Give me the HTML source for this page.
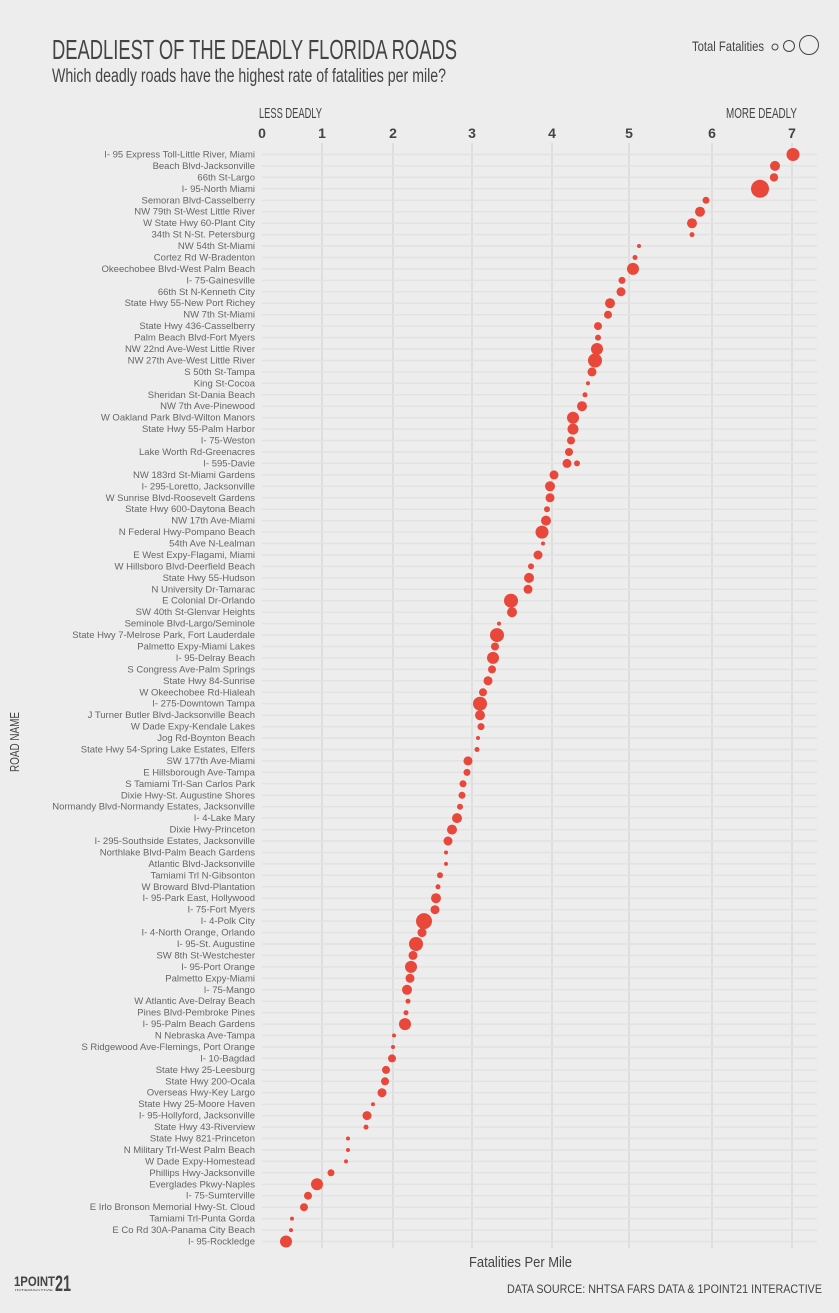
<!DOCTYPE html>
<html><head><meta charset="utf-8"><style>
html,body{margin:0;padding:0;background:#ededed;}
svg{display:block;}
.l{font-family:"Liberation Sans",sans-serif;font-size:9.5px;fill:#666;}
.c{font-family:"Liberation Sans",sans-serif;fill:#444;}
</style></head><body>
<svg width="839" height="1313" viewBox="0 0 839 1313" xmlns="http://www.w3.org/2000/svg">
<rect width="839" height="1313" fill="#ededed"/>
<text class="c" x="52" y="59" font-size="28" textLength="405" lengthAdjust="spacingAndGlyphs">DEADLIEST OF THE DEADLY FLORIDA ROADS</text>
<text class="c" x="52" y="82" font-size="19" textLength="394" lengthAdjust="spacingAndGlyphs">Which deadly roads have the highest rate of fatalities per mile?</text>
<text class="c" x="692" y="51" font-size="14" textLength="72" lengthAdjust="spacingAndGlyphs">Total Fatalities</text>
<circle cx="775" cy="47" r="3" fill="none" stroke="#444" stroke-width="1"/>
<circle cx="789" cy="46" r="5.5" fill="none" stroke="#444" stroke-width="1"/>
<circle cx="809" cy="45" r="9.5" fill="none" stroke="#444" stroke-width="1"/>
<text class="c" x="259" y="118" font-size="15" textLength="63" lengthAdjust="spacingAndGlyphs">LESS DEADLY</text>
<text class="c" x="726" y="118" font-size="15" textLength="71" lengthAdjust="spacingAndGlyphs">MORE DEADLY</text>
<g class="c" font-size="14" font-weight="bold" text-anchor="middle" fill="#555">
<text x="262" y="138">0</text><text x="322" y="138">1</text><text x="393" y="138">2</text><text x="472" y="138">3</text><text x="552" y="138">4</text><text x="629" y="138">5</text><text x="712" y="138">6</text><text x="792" y="138">7</text>
</g>
<g stroke="#cfcfcf" stroke-width="1">
<line x1="322" y1="143" x2="322" y2="1248"/><line x1="393" y1="143" x2="393" y2="1248"/><line x1="472" y1="143" x2="472" y2="1248"/><line x1="552" y1="143" x2="552" y2="1248"/><line x1="629" y1="143" x2="629" y2="1248"/><line x1="712" y1="143" x2="712" y2="1248"/><line x1="792" y1="143" x2="792" y2="1248"/>
</g>
<g stroke="#e2e2e2" stroke-width="1.5">
<line x1="262" x2="817" y1="154.5" y2="154.5"/><line x1="262" x2="817" y1="165.9" y2="165.9"/><line x1="262" x2="817" y1="177.4" y2="177.4"/><line x1="262" x2="817" y1="188.8" y2="188.8"/><line x1="262" x2="817" y1="200.3" y2="200.3"/><line x1="262" x2="817" y1="211.7" y2="211.7"/><line x1="262" x2="817" y1="223.2" y2="223.2"/><line x1="262" x2="817" y1="234.6" y2="234.6"/><line x1="262" x2="817" y1="246.0" y2="246.0"/><line x1="262" x2="817" y1="257.5" y2="257.5"/><line x1="262" x2="817" y1="268.9" y2="268.9"/><line x1="262" x2="817" y1="280.4" y2="280.4"/><line x1="262" x2="817" y1="291.8" y2="291.8"/><line x1="262" x2="817" y1="303.2" y2="303.2"/><line x1="262" x2="817" y1="314.7" y2="314.7"/><line x1="262" x2="817" y1="326.1" y2="326.1"/><line x1="262" x2="817" y1="337.6" y2="337.6"/><line x1="262" x2="817" y1="349.0" y2="349.0"/><line x1="262" x2="817" y1="360.5" y2="360.5"/><line x1="262" x2="817" y1="371.9" y2="371.9"/><line x1="262" x2="817" y1="383.3" y2="383.3"/><line x1="262" x2="817" y1="394.8" y2="394.8"/><line x1="262" x2="817" y1="406.2" y2="406.2"/><line x1="262" x2="817" y1="417.7" y2="417.7"/><line x1="262" x2="817" y1="429.1" y2="429.1"/><line x1="262" x2="817" y1="440.5" y2="440.5"/><line x1="262" x2="817" y1="452.0" y2="452.0"/><line x1="262" x2="817" y1="463.4" y2="463.4"/><line x1="262" x2="817" y1="474.9" y2="474.9"/><line x1="262" x2="817" y1="486.3" y2="486.3"/><line x1="262" x2="817" y1="497.8" y2="497.8"/><line x1="262" x2="817" y1="509.2" y2="509.2"/><line x1="262" x2="817" y1="520.6" y2="520.6"/><line x1="262" x2="817" y1="532.1" y2="532.1"/><line x1="262" x2="817" y1="543.5" y2="543.5"/><line x1="262" x2="817" y1="555.0" y2="555.0"/><line x1="262" x2="817" y1="566.4" y2="566.4"/><line x1="262" x2="817" y1="577.9" y2="577.9"/><line x1="262" x2="817" y1="589.3" y2="589.3"/><line x1="262" x2="817" y1="600.7" y2="600.7"/><line x1="262" x2="817" y1="612.2" y2="612.2"/><line x1="262" x2="817" y1="623.6" y2="623.6"/><line x1="262" x2="817" y1="635.1" y2="635.1"/><line x1="262" x2="817" y1="646.5" y2="646.5"/><line x1="262" x2="817" y1="657.9" y2="657.9"/><line x1="262" x2="817" y1="669.4" y2="669.4"/><line x1="262" x2="817" y1="680.8" y2="680.8"/><line x1="262" x2="817" y1="692.3" y2="692.3"/><line x1="262" x2="817" y1="703.7" y2="703.7"/><line x1="262" x2="817" y1="715.2" y2="715.2"/><line x1="262" x2="817" y1="726.6" y2="726.6"/><line x1="262" x2="817" y1="738.0" y2="738.0"/><line x1="262" x2="817" y1="749.5" y2="749.5"/><line x1="262" x2="817" y1="760.9" y2="760.9"/><line x1="262" x2="817" y1="772.4" y2="772.4"/><line x1="262" x2="817" y1="783.8" y2="783.8"/><line x1="262" x2="817" y1="795.3" y2="795.3"/><line x1="262" x2="817" y1="806.7" y2="806.7"/><line x1="262" x2="817" y1="818.1" y2="818.1"/><line x1="262" x2="817" y1="829.6" y2="829.6"/><line x1="262" x2="817" y1="841.0" y2="841.0"/><line x1="262" x2="817" y1="852.5" y2="852.5"/><line x1="262" x2="817" y1="863.9" y2="863.9"/><line x1="262" x2="817" y1="875.3" y2="875.3"/><line x1="262" x2="817" y1="886.8" y2="886.8"/><line x1="262" x2="817" y1="898.2" y2="898.2"/><line x1="262" x2="817" y1="909.7" y2="909.7"/><line x1="262" x2="817" y1="921.1" y2="921.1"/><line x1="262" x2="817" y1="932.6" y2="932.6"/><line x1="262" x2="817" y1="944.0" y2="944.0"/><line x1="262" x2="817" y1="955.4" y2="955.4"/><line x1="262" x2="817" y1="966.9" y2="966.9"/><line x1="262" x2="817" y1="978.3" y2="978.3"/><line x1="262" x2="817" y1="989.8" y2="989.8"/><line x1="262" x2="817" y1="1001.2" y2="1001.2"/><line x1="262" x2="817" y1="1012.7" y2="1012.7"/><line x1="262" x2="817" y1="1024.1" y2="1024.1"/><line x1="262" x2="817" y1="1035.5" y2="1035.5"/><line x1="262" x2="817" y1="1047.0" y2="1047.0"/><line x1="262" x2="817" y1="1058.4" y2="1058.4"/><line x1="262" x2="817" y1="1069.9" y2="1069.9"/><line x1="262" x2="817" y1="1081.3" y2="1081.3"/><line x1="262" x2="817" y1="1092.7" y2="1092.7"/><line x1="262" x2="817" y1="1104.2" y2="1104.2"/><line x1="262" x2="817" y1="1115.6" y2="1115.6"/><line x1="262" x2="817" y1="1127.1" y2="1127.1"/><line x1="262" x2="817" y1="1138.5" y2="1138.5"/><line x1="262" x2="817" y1="1150.0" y2="1150.0"/><line x1="262" x2="817" y1="1161.4" y2="1161.4"/><line x1="262" x2="817" y1="1172.8" y2="1172.8"/><line x1="262" x2="817" y1="1184.3" y2="1184.3"/><line x1="262" x2="817" y1="1195.7" y2="1195.7"/><line x1="262" x2="817" y1="1207.2" y2="1207.2"/><line x1="262" x2="817" y1="1218.6" y2="1218.6"/><line x1="262" x2="817" y1="1230.1" y2="1230.1"/><line x1="262" x2="817" y1="1241.5" y2="1241.5"/>
</g>
<g class="l" text-anchor="end">
<text x="255" y="157.5">I- 95 Express Toll-Little River, Miami</text>
<text x="255" y="168.9">Beach Blvd-Jacksonville</text>
<text x="255" y="180.4">66th St-Largo</text>
<text x="255" y="191.8">I- 95-North Miami</text>
<text x="255" y="203.3">Semoran Blvd-Casselberry</text>
<text x="255" y="214.7">NW 79th St-West Little River</text>
<text x="255" y="226.2">W State Hwy 60-Plant City</text>
<text x="255" y="237.6">34th St N-St. Petersburg</text>
<text x="255" y="249.0">NW 54th St-Miami</text>
<text x="255" y="260.5">Cortez Rd W-Bradenton</text>
<text x="255" y="271.9">Okeechobee Blvd-West Palm Beach</text>
<text x="255" y="283.4">I- 75-Gainesville</text>
<text x="255" y="294.8">66th St N-Kenneth City</text>
<text x="255" y="306.2">State Hwy 55-New Port Richey</text>
<text x="255" y="317.7">NW 7th St-Miami</text>
<text x="255" y="329.1">State Hwy 436-Casselberry</text>
<text x="255" y="340.6">Palm Beach Blvd-Fort Myers</text>
<text x="255" y="352.0">NW 22nd Ave-West Little River</text>
<text x="255" y="363.5">NW 27th Ave-West Little River</text>
<text x="255" y="374.9">S 50th St-Tampa</text>
<text x="255" y="386.3">King St-Cocoa</text>
<text x="255" y="397.8">Sheridan St-Dania Beach</text>
<text x="255" y="409.2">NW 7th Ave-Pinewood</text>
<text x="255" y="420.7">W Oakland Park Blvd-Wilton Manors</text>
<text x="255" y="432.1">State Hwy 55-Palm Harbor</text>
<text x="255" y="443.5">I- 75-Weston</text>
<text x="255" y="455.0">Lake Worth Rd-Greenacres</text>
<text x="255" y="466.4">I- 595-Davie</text>
<text x="255" y="477.9">NW 183rd St-Miami Gardens</text>
<text x="255" y="489.3">I- 295-Loretto, Jacksonville</text>
<text x="255" y="500.8">W Sunrise Blvd-Roosevelt Gardens</text>
<text x="255" y="512.2">State Hwy 600-Daytona Beach</text>
<text x="255" y="523.6">NW 17th Ave-Miami</text>
<text x="255" y="535.1">N Federal Hwy-Pompano Beach</text>
<text x="255" y="546.5">54th Ave N-Lealman</text>
<text x="255" y="558.0">E West Expy-Flagami, Miami</text>
<text x="255" y="569.4">W Hillsboro Blvd-Deerfield Beach</text>
<text x="255" y="580.9">State Hwy 55-Hudson</text>
<text x="255" y="592.3">N University Dr-Tamarac</text>
<text x="255" y="603.7">E Colonial Dr-Orlando</text>
<text x="255" y="615.2">SW 40th St-Glenvar Heights</text>
<text x="255" y="626.6">Seminole Blvd-Largo/Seminole</text>
<text x="255" y="638.1">State Hwy 7-Melrose Park, Fort Lauderdale</text>
<text x="255" y="649.5">Palmetto Expy-Miami Lakes</text>
<text x="255" y="660.9">I- 95-Delray Beach</text>
<text x="255" y="672.4">S Congress Ave-Palm Springs</text>
<text x="255" y="683.8">State Hwy 84-Sunrise</text>
<text x="255" y="695.3">W Okeechobee Rd-Hialeah</text>
<text x="255" y="706.7">I- 275-Downtown Tampa</text>
<text x="255" y="718.2">J Turner Butler Blvd-Jacksonville Beach</text>
<text x="255" y="729.6">W Dade Expy-Kendale Lakes</text>
<text x="255" y="741.0">Jog Rd-Boynton Beach</text>
<text x="255" y="752.5">State Hwy 54-Spring Lake Estates, Elfers</text>
<text x="255" y="763.9">SW 177th Ave-Miami</text>
<text x="255" y="775.4">E Hillsborough Ave-Tampa</text>
<text x="255" y="786.8">S Tamiami Trl-San Carlos Park</text>
<text x="255" y="798.3">Dixie Hwy-St. Augustine Shores</text>
<text x="255" y="809.7">Normandy Blvd-Normandy Estates, Jacksonville</text>
<text x="255" y="821.1">I- 4-Lake Mary</text>
<text x="255" y="832.6">Dixie Hwy-Princeton</text>
<text x="255" y="844.0">I- 295-Southside Estates, Jacksonville</text>
<text x="255" y="855.5">Northlake Blvd-Palm Beach Gardens</text>
<text x="255" y="866.9">Atlantic Blvd-Jacksonville</text>
<text x="255" y="878.3">Tamiami Trl N-Gibsonton</text>
<text x="255" y="889.8">W Broward Blvd-Plantation</text>
<text x="255" y="901.2">I- 95-Park East, Hollywood</text>
<text x="255" y="912.7">I- 75-Fort Myers</text>
<text x="255" y="924.1">I- 4-Polk City</text>
<text x="255" y="935.6">I- 4-North Orange, Orlando</text>
<text x="255" y="947.0">I- 95-St. Augustine</text>
<text x="255" y="958.4">SW 8th St-Westchester</text>
<text x="255" y="969.9">I- 95-Port Orange</text>
<text x="255" y="981.3">Palmetto Expy-Miami</text>
<text x="255" y="992.8">I- 75-Mango</text>
<text x="255" y="1004.2">W Atlantic Ave-Delray Beach</text>
<text x="255" y="1015.7">Pines Blvd-Pembroke Pines</text>
<text x="255" y="1027.1">I- 95-Palm Beach Gardens</text>
<text x="255" y="1038.5">N Nebraska Ave-Tampa</text>
<text x="255" y="1050.0">S Ridgewood Ave-Flemings, Port Orange</text>
<text x="255" y="1061.4">I- 10-Bagdad</text>
<text x="255" y="1072.9">State Hwy 25-Leesburg</text>
<text x="255" y="1084.3">State Hwy 200-Ocala</text>
<text x="255" y="1095.7">Overseas Hwy-Key Largo</text>
<text x="255" y="1107.2">State Hwy 25-Moore Haven</text>
<text x="255" y="1118.6">I- 95-Hollyford, Jacksonville</text>
<text x="255" y="1130.1">State Hwy 43-Riverview</text>
<text x="255" y="1141.5">State Hwy 821-Princeton</text>
<text x="255" y="1153.0">N Military Trl-West Palm Beach</text>
<text x="255" y="1164.4">W Dade Expy-Homestead</text>
<text x="255" y="1175.8">Phillips Hwy-Jacksonville</text>
<text x="255" y="1187.3">Everglades Pkwy-Naples</text>
<text x="255" y="1198.7">I- 75-Sumterville</text>
<text x="255" y="1210.2">E Irlo Bronson Memorial Hwy-St. Cloud</text>
<text x="255" y="1221.6">Tamiami Trl-Punta Gorda</text>
<text x="255" y="1233.1">E Co Rd 30A-Panama City Beach</text>
<text x="255" y="1244.5">I- 95-Rockledge</text>
</g>
<g fill="#e8473a">
<circle cx="793" cy="154.5" r="6.5"/><circle cx="775" cy="165.9" r="5"/><circle cx="774" cy="177.4" r="4.2"/><circle cx="760" cy="188.8" r="9"/><circle cx="706" cy="200.3" r="3.5"/><circle cx="700" cy="211.7" r="5"/><circle cx="692" cy="223.2" r="5"/><circle cx="692" cy="234.6" r="2.5"/><circle cx="639" cy="246.0" r="2"/><circle cx="635" cy="257.5" r="2.5"/><circle cx="633" cy="268.9" r="6"/><circle cx="622" cy="280.4" r="3.5"/><circle cx="621" cy="291.8" r="4.5"/><circle cx="610" cy="303.2" r="5"/><circle cx="608" cy="314.7" r="4"/><circle cx="598" cy="326.1" r="4"/><circle cx="598" cy="337.6" r="3"/><circle cx="597" cy="349.0" r="6"/><circle cx="595" cy="360.5" r="7"/><circle cx="592" cy="371.9" r="4.5"/><circle cx="588" cy="383.3" r="2"/><circle cx="585" cy="394.8" r="2.5"/><circle cx="582" cy="406.2" r="5"/><circle cx="573" cy="417.7" r="6"/><circle cx="573" cy="429.1" r="5.5"/><circle cx="571" cy="440.5" r="4"/><circle cx="569" cy="452.0" r="4"/><circle cx="567" cy="463.4" r="4.5"/><circle cx="577" cy="463.4" r="3"/><circle cx="554" cy="474.9" r="4.5"/><circle cx="550" cy="486.3" r="5"/><circle cx="550" cy="497.8" r="4.5"/><circle cx="547" cy="509.2" r="3"/><circle cx="546" cy="520.6" r="5"/><circle cx="542" cy="532.1" r="6.5"/><circle cx="543" cy="543.5" r="2"/><circle cx="538" cy="555.0" r="4.5"/><circle cx="531" cy="566.4" r="3"/><circle cx="529" cy="577.9" r="5"/><circle cx="528" cy="589.3" r="4.5"/><circle cx="511" cy="600.7" r="7"/><circle cx="512" cy="612.2" r="5"/><circle cx="499" cy="623.6" r="2"/><circle cx="497" cy="635.1" r="7"/><circle cx="495" cy="646.5" r="4"/><circle cx="493" cy="657.9" r="6"/><circle cx="492" cy="669.4" r="4"/><circle cx="488" cy="680.8" r="4.5"/><circle cx="483" cy="692.3" r="4"/><circle cx="480" cy="703.7" r="7"/><circle cx="480" cy="715.2" r="5"/><circle cx="481" cy="726.6" r="3.5"/><circle cx="478" cy="738.0" r="2"/><circle cx="477" cy="749.5" r="2.5"/><circle cx="468" cy="760.9" r="4.5"/><circle cx="467" cy="772.4" r="3.5"/><circle cx="463" cy="783.8" r="3.5"/><circle cx="462" cy="795.3" r="3.5"/><circle cx="460" cy="806.7" r="3"/><circle cx="457" cy="818.1" r="5"/><circle cx="452" cy="829.6" r="5"/><circle cx="448" cy="841.0" r="4.5"/><circle cx="446" cy="852.5" r="2"/><circle cx="446" cy="863.9" r="2"/><circle cx="440" cy="875.3" r="3"/><circle cx="438" cy="886.8" r="2.5"/><circle cx="436" cy="898.2" r="5"/><circle cx="435" cy="909.7" r="4.5"/><circle cx="424" cy="921.1" r="8"/><circle cx="422" cy="932.6" r="4.5"/><circle cx="416" cy="944.0" r="7"/><circle cx="413" cy="955.4" r="4.5"/><circle cx="411" cy="966.9" r="6"/><circle cx="410" cy="978.3" r="4.5"/><circle cx="407" cy="989.8" r="5"/><circle cx="408" cy="1001.2" r="2.5"/><circle cx="406" cy="1012.7" r="2.5"/><circle cx="405" cy="1024.1" r="6"/><circle cx="394" cy="1035.5" r="2"/><circle cx="393" cy="1047.0" r="2"/><circle cx="392" cy="1058.4" r="4"/><circle cx="386" cy="1069.9" r="4"/><circle cx="385" cy="1081.3" r="4"/><circle cx="382" cy="1092.7" r="4.5"/><circle cx="373" cy="1104.2" r="2"/><circle cx="367" cy="1115.6" r="4.5"/><circle cx="366" cy="1127.1" r="2.5"/><circle cx="348" cy="1138.5" r="2"/><circle cx="348" cy="1150.0" r="2"/><circle cx="346" cy="1161.4" r="2"/><circle cx="331" cy="1172.8" r="3.5"/><circle cx="317" cy="1184.3" r="6"/><circle cx="308" cy="1195.7" r="4"/><circle cx="304" cy="1207.2" r="4"/><circle cx="292" cy="1218.6" r="2"/><circle cx="291" cy="1230.1" r="2"/><circle cx="286" cy="1241.5" r="6"/>
</g>
<text class="c" transform="translate(19,772) rotate(-90)" font-size="13" textLength="60" lengthAdjust="spacingAndGlyphs">ROAD NAME</text>
<text class="c" x="469" y="1267" font-size="15" textLength="103" lengthAdjust="spacingAndGlyphs">Fatalities Per Mile</text>
<text class="c" x="14" y="1286" font-size="14" font-weight="bold" fill="#333" textLength="41" lengthAdjust="spacingAndGlyphs">1POINT</text>
<text class="c" x="55" y="1291" font-size="22" font-weight="bold" fill="#333" textLength="16" lengthAdjust="spacingAndGlyphs">21</text>
<text class="c" x="15" y="1291" font-size="3" fill="#333" textLength="38" lengthAdjust="spacingAndGlyphs">INTERACTIVE</text>
<text class="c" x="507" y="1293" font-size="12" fill="#555" textLength="315" lengthAdjust="spacingAndGlyphs">DATA SOURCE: NHTSA FARS DATA &amp; 1POINT21 INTERACTIVE</text>
</svg>
</body></html>
